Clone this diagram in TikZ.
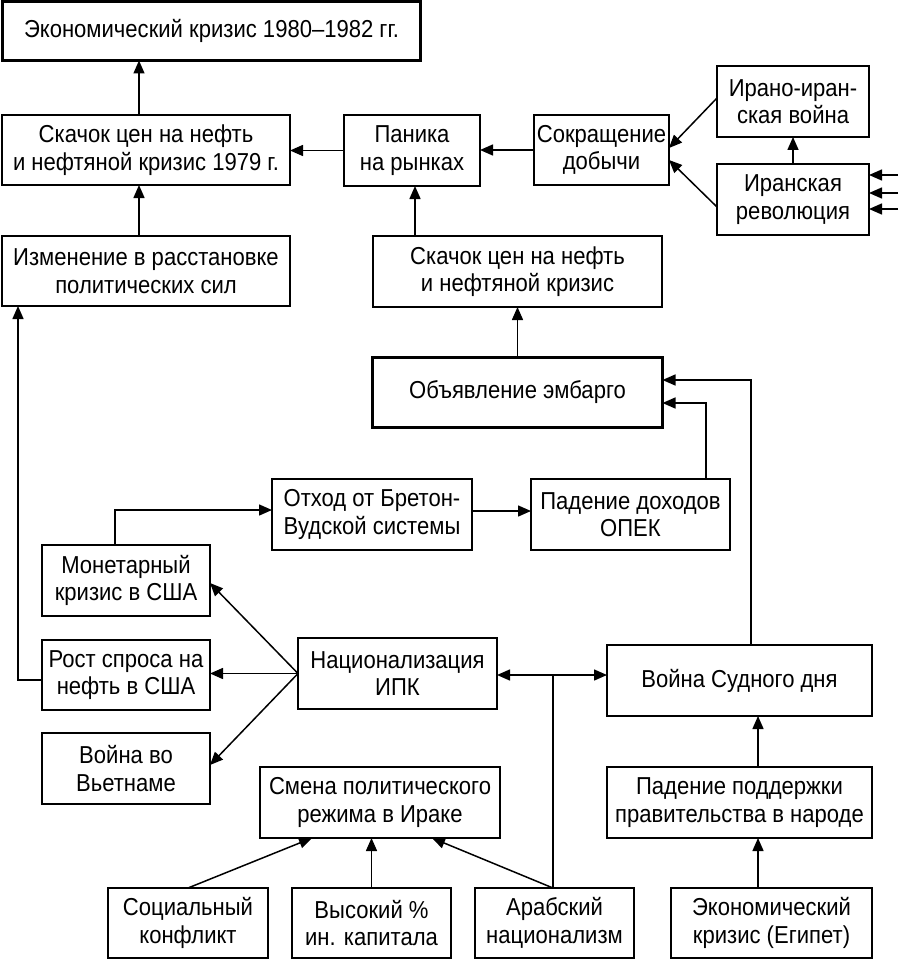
\documentclass[tikz,border=0pt]{standalone}
\usepackage{fontspec}
\setmainfont{Liberation Sans}[FakeStretch=0.9]
\usetikzlibrary{arrows.meta}
\begin{document}
\begin{tikzpicture}[x=1pt,y=-1pt,
  box/.style={draw, line width=1.5pt, align=center, inner sep=0pt, outer sep=0pt,
    font=\fontsize{24.5}{27.5}\selectfont},
  thickbox/.style={box, line width=3.3pt},
  arr/.style={line width=1.5pt, -{Triangle[length=13pt,width=11pt]}},
  dbl/.style={line width=1.5pt, {Triangle[length=13pt,width=11pt]}-{Triangle[length=13pt,width=11pt]}},
  ln/.style={line width=1.5pt}]
\useasboundingbox (0,0) rectangle (898,960);
% boxes
\node[thickbox, minimum width=418pt, minimum height=59pt] (top) at (211.5,31) {Экономический кризис 1980–1982 гг.};
\node[box, minimum width=288pt, minimum height=70pt] (skach79) at (146,150) {Скачок цен на нефть\\и нефтяной кризис 1979 г.};
\node[box, minimum width=288pt, minimum height=70pt] (izm) at (146,271) {Изменение в расстановке\\политических сил};
\node[box, minimum width=136pt, minimum height=71pt] (panika) at (412,150.5) {Паника\\на рынках};
\node[box, minimum width=135pt, minimum height=70pt] (sokr) at (601.5,150) {Сокращение\\добычи};
\node[box, minimum width=152pt, minimum height=71pt] (iiwar) at (793,101.5) {Ирано-иран-\\ская война};
\node[box, minimum width=152pt, minimum height=71pt] (irrev) at (793,199.5) {Иранская\\революция};
\node[box, minimum width=289pt, minimum height=71pt] (skach) at (517.5,271.5) {Скачок цен на нефть\\и нефтяной кризис};
\node[thickbox, minimum width=290pt, minimum height=70pt] (embargo) at (517.5,392.5) {Объявление эмбарго};
\node[box, minimum width=200pt, minimum height=71pt] (otkhod) at (372,514.5) {Отход от Бретон-\\Вудской системы};
\node[box, minimum width=199pt, minimum height=71pt] (opek) at (630.5,514.5) {Падение доходов\\ОПЕК};
\node[box, minimum width=168pt, minimum height=71pt] (monet) at (126,580.5) {Монетарный\\кризис в США};
\node[box, minimum width=168pt, minimum height=70pt] (rost) at (126,675) {Рост спроса на\\нефть в США};
\node[box, minimum width=168pt, minimum height=71pt] (vietnam) at (126,768.5) {Война во\\Вьетнаме};
\node[box, minimum width=199pt, minimum height=71pt] (nats) at (397.5,673.5) {Национализация\\ИПК};
\node[box, minimum width=265pt, minimum height=71pt] (sudny) at (739.5,680.5) {Война Судного дня};
\node[box, minimum width=240pt, minimum height=71pt] (smena) at (380,802.5) {Смена политического\\режима в Ираке};
\node[box, minimum width=265pt, minimum height=71pt] (padsup) at (739.5,802.5) {Падение поддержки\\правительства в народе};
\node[box, minimum width=160pt, minimum height=70pt] (social) at (188,923) {Социальный\\конфликт};
\node[box, minimum width=159pt, minimum height=70pt] (vysok) at (371.5,923) {Высокий \%\\ин. капитала};
\node[box, minimum width=159pt, minimum height=70pt] (arab) at (554.5,923) {Арабский\\национализм};
\node[box, minimum width=201pt, minimum height=70pt] (econeg) at (771.5,923) {Экономический\\кризис (Египет)};
% helper coordinates
\coordinate (c139) at (139,0);
\coordinate (c415) at (415,0);
\coordinate (r1) at (898,175);
\coordinate (r2) at (898,193);
\coordinate (r3) at (898,209);
\coordinate (e1) at (751,380);
\coordinate (e2) at (706,403);
\coordinate (m1) at (115,510);
\coordinate (m2) at (500,511);
\coordinate (r0) at (18,680);
\coordinate (j1) at (553,675);
\coordinate (v1) at (758,0);
% connectors
\draw[arr] (skach79.north -| c139) -- (top.south -| c139);
\draw[arr] (izm.north -| c139) -- (skach79.south -| c139);
\draw[arr] (panika.west) -- (panika.west -| skach79.east);
\draw[arr] (sokr.west) -- (sokr.west -| panika.east);
\draw[arr] ([yshift=3.5pt]iiwar.west) -- ([yshift=2pt]sokr.east);
\draw[arr] ([yshift=-7.5pt]irrev.west) -- ([yshift=-10pt]sokr.east);
\draw[arr] (irrev.north) -- (iiwar.south);
\draw[arr] (r1) -- (irrev.east |- r1);
\draw[arr] (r2) -- (irrev.east |- r2);
\draw[arr] (r3) -- (irrev.east |- r3);
\draw[arr] (skach.north -| c415) -- (panika.south -| c415);
\draw[arr] (embargo.north) -- (skach.south);
\draw[arr] (sudny.north -| e1) -- (e1) -- (embargo.east |- e1);
\draw[arr] (opek.north -| e2) -- (e2) -- (embargo.east |- e2);
\draw[arr] (otkhod.east |- m2) -- (opek.west |- m2);
\draw[arr] (monet.north -| m1) -- (m1) -- (otkhod.west |- m1);
\draw[arr] (rost.west |- r0) -- (r0) -- (r0 |- izm.south);
\draw[arr] (nats.west) -- ([yshift=-2.5pt]monet.east);
\draw[arr] (nats.west) -- (nats.west -| rost.east);
\draw[arr] (nats.west) -- ([yshift=3.5pt]vietnam.east);
\draw[dbl] (nats.east |- j1) -- (sudny.west |- j1);
\draw[ln] (arab.north -| j1) -- (j1);
\draw[arr] (arab.north -| j1) -- ([xshift=52pt]smena.south);
\draw[arr] (social.north) -- ([xshift=-68pt]smena.south);
\draw[arr] (vysok.north) -- (vysok.north |- smena.south);
\draw[arr] (econeg.north -| v1) -- (padsup.south -| v1);
\draw[arr] (padsup.north -| v1) -- (sudny.south -| v1);
\end{tikzpicture}
\end{document}
